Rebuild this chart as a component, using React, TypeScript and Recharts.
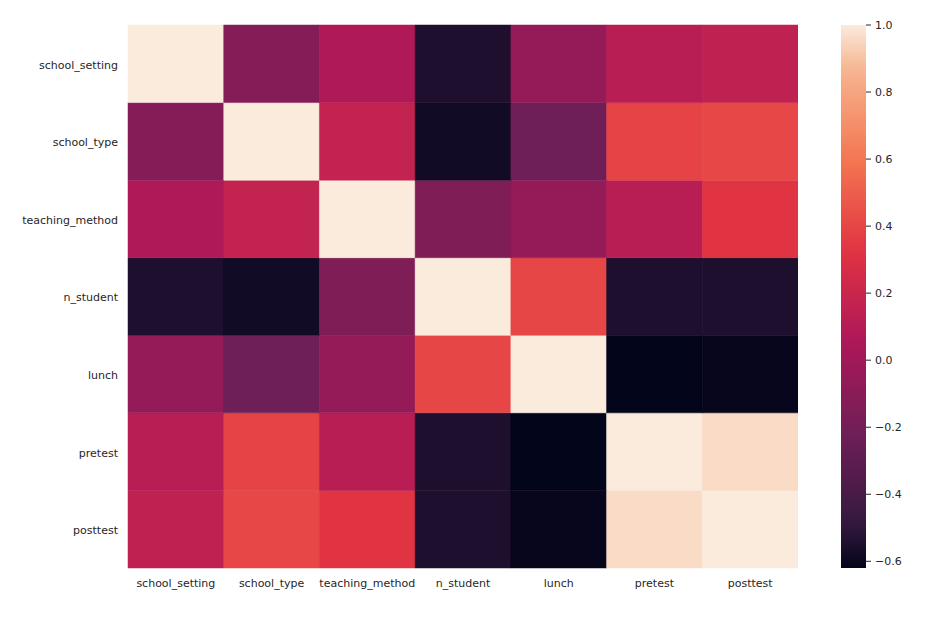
import { BarChart, Bar, XAxis, YAxis, Cell } from "recharts";

const LABELS = [
  "school_setting",
  "school_type",
  "teaching_method",
  "n_student",
  "lunch",
  "pretest",
  "posttest",
];

// correlation rows
const SCHOOL_SETTING = [1.0, -0.12, 0.07, -0.55, -0.05, 0.11, 0.15];
const SCHOOL_TYPE = [-0.12, 1.0, 0.17, -0.58, -0.22, 0.39, 0.41];
const TEACHING_METHOD = [0.07, 0.17, 1.0, -0.15, -0.05, 0.11, 0.33];
const N_STUDENT = [-0.55, -0.58, -0.15, 1.0, 0.4, -0.55, -0.55];
const LUNCH = [-0.05, -0.22, -0.05, 0.4, 1.0, -0.62, -0.61];
const PRETEST = [0.11, 0.39, 0.11, -0.55, -0.62, 1.0, 0.96];
const POSTTEST = [0.15, 0.41, 0.33, -0.55, -0.61, 0.96, 1.0];

const MATRIX = [
  SCHOOL_SETTING,
  SCHOOL_TYPE,
  TEACHING_METHOD,
  N_STUDENT,
  LUNCH,
  PRETEST,
  POSTTEST,
];

const VMIN = -0.62;
const VMAX = 1.0;
const CBAR_TICKS = [-0.6, -0.4, -0.2, 0.0, 0.2, 0.4, 0.6, 0.8, 1.0];

// seaborn "rocket" colormap stops
const ROCKET: [number, string][] = [
  [0.0, "#03051a"],
  [0.083, "#35193e"],
  [0.25, "#701f57"],
  [0.417, "#ad1759"],
  [0.583, "#e13342"],
  [0.75, "#f37651"],
  [0.917, "#f6b48f"],
  [1.0, "#faebdd"],
];

function hex(c: string) {
  return [1, 3, 5].map((i) => parseInt(c.slice(i, i + 2), 16));
}

function rocket(t: number) {
  t = Math.max(0, Math.min(1, t));
  for (let i = 1; i < ROCKET.length; i++) {
    const [p1, c1] = ROCKET[i];
    const [p0, c0] = ROCKET[i - 1];
    if (t <= p1) {
      const f = (t - p0) / (p1 - p0);
      const a = hex(c0);
      const b = hex(c1);
      const m = a.map((v, k) => Math.round(v + (b[k] - v) * f));
      return `rgb(${m[0]},${m[1]},${m[2]})`;
    }
  }
  return ROCKET[ROCKET.length - 1][1];
}

const colorOf = (v: number) => rocket((v - VMIN) / (VMAX - VMIN));

const FONT = "'DejaVu Sans', sans-serif";
const TEXT = "#262626";

const heatData = LABELS.map((name) => {
  const row: Record<string, string | number> = { name };
  LABELS.forEach((_, r) => (row[`r${r}`] = 1));
  return row;
});

const cbarData = [{ name: "cbar", range: [VMIN, VMAX] }];

const fmt = (v: number) =>
  v < 0 ? `\u2212${Math.abs(v).toFixed(1)}` : v.toFixed(1);

export default function App() {
  const rowsBottomUp = [...LABELS.keys()].reverse();
  return (
    <div
      style={{
        position: "absolute",
        left: 0,
        top: 0,
        width: 942,
        height: 624,
        background: "#fff",
        fontFamily: FONT,
      }}
    >
      <div style={{ position: "absolute", left: 0, top: 0 }}>
        <BarChart
          width={798}
          height={624}
          data={heatData}
          margin={{ top: 25, right: 0, left: 8, bottom: 26 }}
          barCategoryGap={0}
          barGap={0}
        >
          <XAxis
            dataKey="name"
            axisLine={false}
            tickLine={false}
            interval={0}
            height={30}
            tickMargin={5}
            tick={{ fontSize: 11, fill: TEXT, fontFamily: FONT }}
          />
          <YAxis
            type="number"
            domain={[0, 7]}
            ticks={[0.5, 1.5, 2.5, 3.5, 4.5, 5.5, 6.5]}
            tickFormatter={(v) => LABELS[6 - Math.floor(v)]}
            axisLine={false}
            tickLine={false}
            width={120}
            tickMargin={4}
            tick={{ fontSize: 11, fill: TEXT, fontFamily: FONT, dy: 1 }}
          />
          {rowsBottomUp.map((r) => (
            <Bar
              key={r}
              dataKey={`r${r}`}
              stackId="heat"
              isAnimationActive={false}
            >
              {LABELS.map((_, c) => (
                <Cell
                  key={c}
                  fill={colorOf(MATRIX[r][c])}
                  stroke={colorOf(MATRIX[r][c])}
                  strokeWidth={0.5}
                />
              ))}
            </Bar>
          ))}
        </BarChart>
      </div>
      <div style={{ position: "absolute", left: 841, top: 0 }}>
        <BarChart
          width={101}
          height={624}
          data={cbarData}
          margin={{ top: 25, right: 0, left: 0, bottom: 56 }}
          barCategoryGap={0}
        >
          <defs>
            <linearGradient id="rocketGrad" x1="0" y1="0" x2="0" y2="1">
              {Array.from({ length: 41 }, (_, i) => (
                <stop
                  key={i}
                  offset={`${(i / 40) * 100}%`}
                  stopColor={rocket(1 - i / 40)}
                />
              ))}
            </linearGradient>
          </defs>
          <XAxis dataKey="name" hide />
          <YAxis
            orientation="right"
            type="number"
            domain={[VMIN, VMAX]}
            allowDataOverflow
            ticks={CBAR_TICKS}
            tickFormatter={fmt}
            axisLine={false}
            tickLine={{ stroke: TEXT }}
            tickSize={5}
            tickMargin={4}
            width={76}
            tick={{ fontSize: 11, fill: TEXT, fontFamily: FONT }}
          />
          <Bar
            dataKey="range"
            fill="url(#rocketGrad)"
            isAnimationActive={false}
          />
        </BarChart>
      </div>
    </div>
  );
}
